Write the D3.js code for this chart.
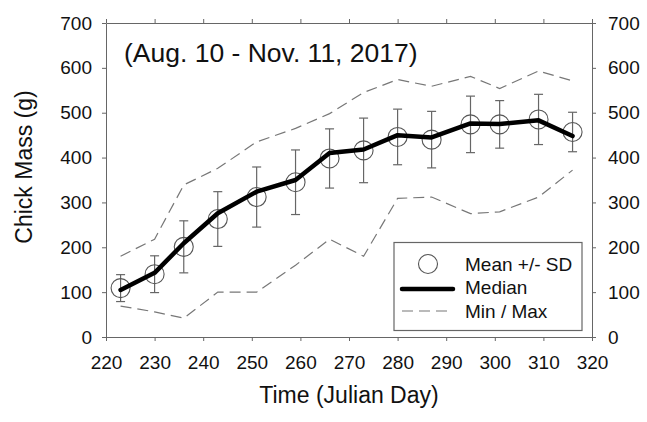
<!DOCTYPE html>
<html>
<head>
<meta charset="utf-8">
<script src="https://cdn.jsdelivr.net/npm/d3@7"></script>
<style>
  body { margin: 0; background: #fff; }
  svg { font-family: "Liberation Sans", Arial, sans-serif; }
</style>
</head>
<body>
<svg width="647" height="422"></svg>
<script>
// julian days of each weighing
const days = [223, 230, 236, 243, 251, 259, 266, 273, 280, 287, 295, 301, 309, 316];
const meanMass = [109, 140, 201, 263, 312, 345, 398, 416, 446, 440, 474, 474, 485, 457];
const sdMass = [30, 41, 58, 61, 67, 72, 66, 72, 62, 63, 63, 53, 56, 44];
const medianMass = [105, 143, 209, 276, 324, 350, 410, 418, 450, 445, 476, 475, 483, 448];
const maxMass = [180, 218, 339, 376, 435, 465, 498, 545, 574, 559, 581, 554, 593, 571];
const minMass = [69, 56, 42, 100, 100, 160, 218, 180, 309, 312, 275, 279, 312, 372];
const xTicks = [220, 230, 240, 250, 260, 270, 280, 290, 300, 310, 320];
const yTicks = [0, 100, 200, 300, 400, 500, 600, 700];

const svg = d3.select("svg");
const pLeft = 106, pRight = 592, pTop = 23, pBottom = 337;
const frame = "#666";

let x = d3.scaleLinear().domain([220, 320]).range([pLeft, pRight]);
let y = d3.scaleLinear().domain([0, 700]).range([pBottom, pTop]);

const rows = days.map((d, i) => ({
    day: d, mean: meanMass[i], sd: sdMass[i], median: medianMass[i],
    max: maxMass[i], min: minMass[i]
}));

// axes on all four sides
function styleAxis(g) {
    g.selectAll("path, line").attr("stroke", frame);
    g.selectAll("text").attr("font-size", 19).attr("fill", "#111")
        .attr("font-family", "Liberation Sans, Arial, sans-serif");
}
svg.append("g").attr("transform", `translate(0,${pBottom})`)
    .call(d3.axisBottom(x).tickValues(xTicks).tickSize(4).tickSizeOuter(0).tickPadding(15))
    .call(styleAxis);
svg.append("g").attr("transform", `translate(0,${pTop})`)
    .call(d3.axisTop(x).tickValues(xTicks).tickSize(4).tickSizeOuter(0).tickFormat(""))
    .call(styleAxis);
svg.append("g").attr("transform", `translate(${pLeft},0)`)
    .call(d3.axisLeft(y).tickValues(yTicks).tickSize(4).tickSizeOuter(0).tickPadding(10))
    .call(styleAxis);
svg.append("g").attr("transform", `translate(${pRight},0)`)
    .call(d3.axisRight(y).tickValues(yTicks).tickSize(4).tickSizeOuter(0).tickPadding(12))
    .call(styleAxis);

// min / max envelope
const dash = "11,6";
["max", "min"].forEach(k => {
    svg.append("path").datum(rows)
        .attr("fill", "none").attr("stroke", "#777").attr("stroke-width", 1.2)
        .attr("stroke-dasharray", dash)
        .attr("d", d3.line().x(d => x(d.day)).y(d => y(d[k])));
});

// error bars
const bars = svg.append("g").attr("stroke", "#666").attr("stroke-width", 1.2);
bars.selectAll("line.v").data(rows).enter().append("line")
    .attr("x1", d => x(d.day)).attr("x2", d => x(d.day))
    .attr("y1", d => y(d.mean - d.sd)).attr("y2", d => y(d.mean + d.sd));
["top", "bot"].forEach(side => {
    bars.selectAll("line." + side).data(rows).enter().append("line")
        .attr("x1", d => x(d.day) - 4.5).attr("x2", d => x(d.day) + 4.5)
        .attr("y1", d => y(side == "top" ? d.mean + d.sd : d.mean - d.sd))
        .attr("y2", d => y(side == "top" ? d.mean + d.sd : d.mean - d.sd));
});

// mean circles
svg.append("g").selectAll("circle").data(rows).enter().append("circle")
    .attr("cx", d => x(d.day)).attr("cy", d => y(d.mean)).attr("r", 9.5)
    .attr("fill", "none").attr("stroke", "#555").attr("stroke-width", 1.1);

// median line
svg.append("path").datum(rows)
    .attr("fill", "none").attr("stroke", "#000").attr("stroke-width", 4.5)
    .attr("stroke-linejoin", "round").attr("stroke-linecap", "round")
    .attr("d", d3.line().x(d => x(d.day)).y(d => y(d.median)));

// annotation
svg.append("text").attr("x", 124).attr("y", 62).attr("font-size", 26.5).attr("fill", "#111")
    .text("(Aug. 10 - Nov. 11, 2017)");

// axis titles
svg.append("text").attr("x", (pLeft + pRight) / 2).attr("y", 403).attr("text-anchor", "middle")
    .attr("font-size", 23).attr("fill", "#111").text("Time (Julian Day)");
svg.append("text").attr("transform", "translate(32,167) rotate(-90)").attr("text-anchor", "middle")
    .attr("font-size", 23).attr("fill", "#111").text("Chick Mass (g)");

// legend
const lg = svg.append("g");
lg.append("rect").attr("x", 394).attr("y", 242.5).attr("width", 188).attr("height", 88)
    .attr("fill", "#fff").attr("stroke", frame).attr("stroke-width", 1.2);
lg.append("circle").attr("cx", 428).attr("cy", 264).attr("r", 9.5)
    .attr("fill", "none").attr("stroke", "#555").attr("stroke-width", 1.1);
lg.append("line").attr("x1", 402).attr("x2", 453).attr("y1", 289).attr("y2", 289)
    .attr("stroke", "#000").attr("stroke-width", 4.5).attr("stroke-linecap", "round");
lg.append("line").attr("x1", 402).attr("x2", 450).attr("y1", 311).attr("y2", 311)
    .attr("stroke", "#777").attr("stroke-width", 1.2).attr("stroke-dasharray", "11,6");
const labels = ["Mean +/- SD", "Median", "Min / Max"];
lg.selectAll("text.l").data(labels).enter().append("text")
    .attr("x", 465).attr("y", (d, i) => 264 + i * 23.5).attr("dy", "0.35em")
    .attr("font-size", 19).attr("fill", "#111").text(d => d);
</script>
</body>
</html>
